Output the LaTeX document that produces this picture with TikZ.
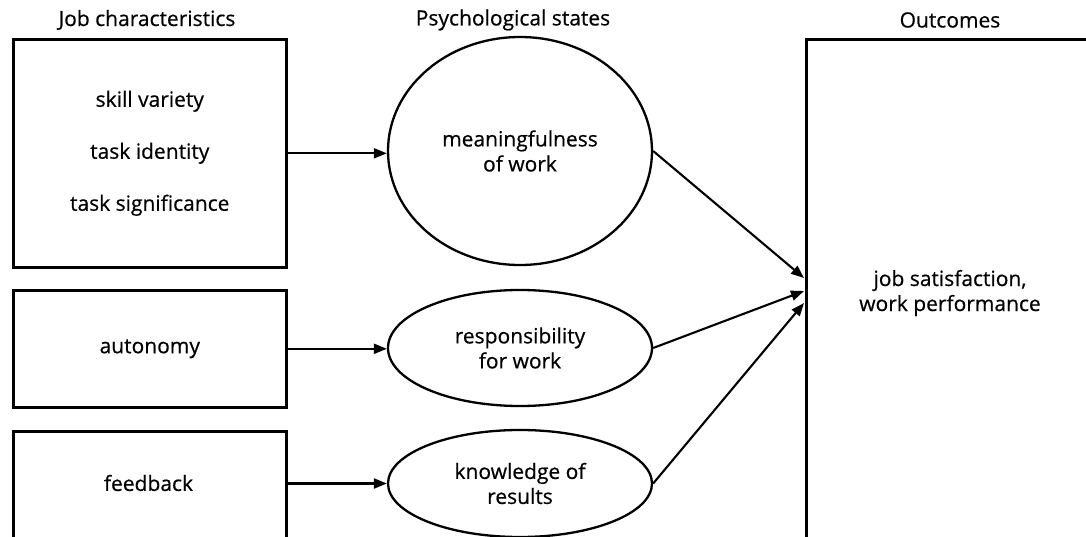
\documentclass[tikz,border=0pt]{standalone}
\usepackage{fontspec}
\setmainfont{Open Sans}[FakeBold=0.5]
\usetikzlibrary{arrows.meta,shapes.geometric}
\begin{document}
\begin{tikzpicture}[x=1pt,y=-1pt,
  lbl/.style={font=\fontsize{21}{25}\selectfont, align=center, inner sep=0pt, text=black},
  boxnode/.style={draw, line width=2.6pt, inner sep=0pt, anchor=north west},
  ell/.style={draw, ellipse, line width=2.3pt, inner sep=0pt},
  arr/.style={line width=2.1pt, -{Triangle[length=13pt,width=10pt]}}]
\clip (0,0) rectangle (1086,537);
\fill[white] (0,0) rectangle (1086,537);
% headers
\node[lbl] (h1) at (147,20) {Job characteristics};
\node[lbl] (h2) at (513,20) {Psychological states};
\node[lbl] (h3) at (950,20) {Outcomes};
% left boxes
\node[boxnode, lbl, minimum width=273pt, minimum height=228pt] (b1) at (12,38)
  {skill variety\\[27pt]task identity\\[27pt]task significance};
\node[boxnode, lbl, minimum width=273pt, minimum height=117pt] (b2) at (12,289) {autonomy};
\node[boxnode, minimum width=273pt, minimum height=150pt] (b3) at (12,430) {};
\node[lbl] (f3) at (148.5,483) {feedback};
% ellipses
\node[ell, lbl, minimum width=264pt, minimum height=228pt] (e1) at (520,151) {meaningfulness\\of work};
\node[ell, lbl, minimum width=264pt, minimum height=116pt] (e2) at (520,348) {responsibility\\for work};
\node[ell, lbl, minimum width=264pt, minimum height=107pt] (e3) at (520,483.5) {knowledge of\\results};
% outcome box
\node[boxnode, minimum width=320pt, minimum height=560pt] (o) at (805,38) {};
\node[lbl] (ot) at (950,293) {job satisfaction,\\work performance};
% arrow targets
\coordinate (t1) at (804,278);
\coordinate (t2) at (804,291);
\coordinate (t3) at (804,303);
% connectors
\draw[arr] (b1.east) -- (b1.east -| e1.west);
\draw[arr] (b2.east) -- (b2.east -| e2.west);
\draw[arr] (b3.east |- e3.west) -- (e3.west);
\draw[arr] (e1.east) -- (t1);
\draw[arr] (e2.east) -- (t2);
\draw[arr] (e3.east) -- (t3);
\end{tikzpicture}
\end{document}
